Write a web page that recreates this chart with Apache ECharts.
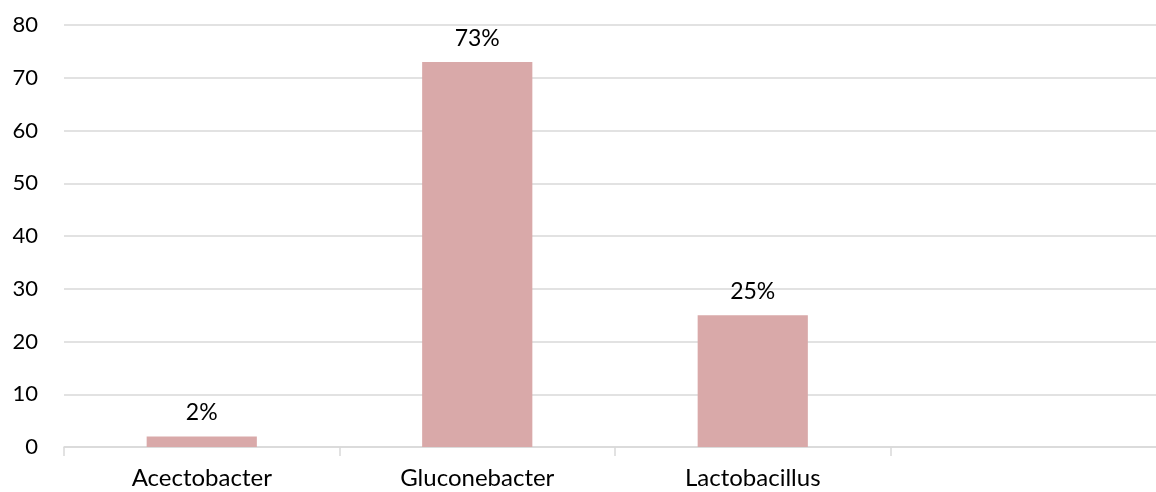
<!DOCTYPE html>
<html><head><meta charset="utf-8">
<script src="https://cdn.jsdelivr.net/npm/echarts@6/dist/echarts.min.js"></script>
<style>html,body{margin:0;padding:0;background:#fff}#c{width:1156px;height:492px}</style>
</head><body><div id="c"></div>
<script>
const categories = ["Acectobacter", "Gluconebacter", "Lactobacillus", ""];
const values = [2, 73, 25, null];
const labels = ["2%", "73%", "25%", ""];
const yTicks = [0, 10, 20, 30, 40, 50, 60, 70, 80];

const chart = echarts.init(document.getElementById('c'), null, {renderer: 'canvas'});
const font = 'Lato, "Open Sans", sans-serif';
chart.setOption({
  animation: false,
  grid: {left: 64, width: 1102, top: 25, bottom: 45, containLabel: false, outerBoundsMode: 'none'},
  xAxis: {
    type: 'category', data: categories,
    axisLine: {lineStyle: {color: '#d9d9d9', width: 1.5}},
    axisTick: {show: true, length: 9, lineStyle: {color: '#d9d9d9', width: 1.5}},
    axisLabel: {color: '#000', fontFamily: font, fontSize: 24, margin: 19}
  },
  yAxis: {
    type: 'value', min: yTicks[0], max: yTicks[yTicks.length - 1], interval: 10,
    axisLine: {show: false}, axisTick: {show: false},
    splitLine: {lineStyle: {color: '#d9d9d9', width: 1.5}},
    axisLabel: {color: '#000', fontFamily: font, fontSize: 22, margin: 26}
  },
  series: [{
    type: 'bar', data: values, barWidth: '40%',
    itemStyle: {color: '#d9a9a9'},
    label: {show: true, position: 'top', distance: 12, color: '#000', fontFamily: font, fontSize: 23,
      formatter: p => labels[p.dataIndex]}
  }]
});
</script></body></html>
